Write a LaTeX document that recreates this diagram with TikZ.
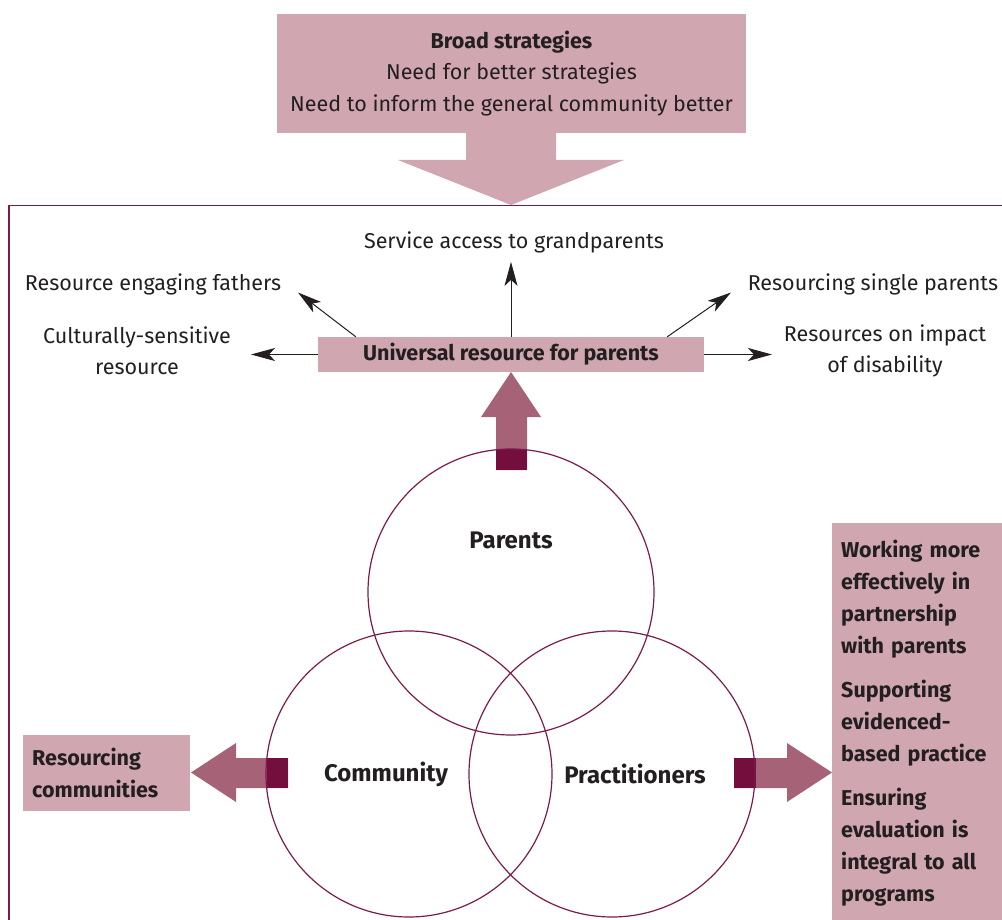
\documentclass[tikz,border=0pt]{standalone}
\usepackage{fontspec}
\setmainfont{Fira Sans}
\usetikzlibrary{arrows.meta,calc}
\definecolor{pinkbg}{HTML}{D0A6B1}
\definecolor{mauve}{HTML}{A66276}
\definecolor{maroon}{HTML}{730E3D}
\definecolor{framec}{HTML}{7B1B4B}
\definecolor{txt}{HTML}{231F20}
\begin{document}
\begin{tikzpicture}[x=1pt,y=-1pt,
  base/.style={font=\fontsize{21.5}{31}\selectfont, text=txt},
  lbl/.style={base, inner sep=0pt, align=center},
  boldlbl/.style={base, inner sep=0pt, font=\fontsize{24}{31}\selectfont\bfseries},
  pinkbox/.style={base, fill=pinkbg, inner sep=0pt},
  thinarr/.style={draw=txt, line width=1pt, -{Stealth[length=24pt,width=13pt,inset=6pt]}},
  ring/.style={circle, draw=framec, line width=1.2pt, minimum size=286pt, inner sep=0pt}]
\useasboundingbox (0,0) rectangle (1002,920);

% top box and down arrow
\node[pinkbox, minimum width=469pt, minimum height=119pt, align=center, font=\fontsize{21.5}{31.5}\selectfont] (broad) at (511.5,73.5)
  {\textbf{Broad strategies}\\Need for better strategies\\Need to inform the general community better};
\fill[pinkbg] (466,131) -- (556,131) -- (556,160) -- (624,160) -- (511,205) -- (398,160) -- (466,160) -- cycle;

% frame
\draw[framec, line width=1.4pt] (9,922) -- (9,205.5) -- (1004,205.5);

% universal resource
\node[pinkbox, minimum width=386pt, minimum height=35pt, font=\fontsize{21.5}{31}\selectfont\bfseries] (uni) at (511,354.5) {Universal resource for parents};

% outer labels
\node[lbl] (grand) at (514,242) {Service access to grandparents};
\node[lbl] (fathers) at (153,284) {Resource engaging fathers};
\node[lbl] (single) at (873,284) {Resourcing single parents};
\node[lbl] (cultural) at (137,351) {Culturally-sensitive\\resource};
\node[lbl] (disab) at (885,351) {Resources on impact\\of disability};

\coordinate (ftip) at (298,292.5);
\coordinate (stip) at (731,292.5);
\coordinate (ctip) at (251,353);
\coordinate (dtip) at (772,353);

\draw[thinarr, shorten >=9pt] (uni.north) -- (uni.north |- grand.south);
\draw[thinarr] ($(uni.north west)+(38,0)$) -- (ftip);
\draw[thinarr] ($(uni.north east)+(-37,0)$) -- (stip);
\draw[thinarr] (uni.west) -- (uni.west -| ctip);
\draw[thinarr] (uni.east) -- (uni.east -| dtip);

% block arrows
\fill[mauve] (496,470) -- (496,417) -- (481,417) -- (511,372) -- (541,417) -- (527,417) -- (527,470) -- cycle;
\fill[maroon] (496,449) rectangle (527,470);
\fill[mauve] (288,758) -- (236,758) -- (236,743) -- (191,772.5) -- (236,802) -- (236,788) -- (288,788) -- cycle;
\fill[maroon] (266.5,758) rectangle (288,788);
\fill[mauve] (734,758) -- (787,758) -- (787,743) -- (832,772.5) -- (787,802) -- (787,788) -- (734,788) -- cycle;
\fill[maroon] (734,758) rectangle (755.5,788);

% circles
\node[ring] (cpar) at (511,592) {};
\node[ring] (ccom) at (409,774) {};
\node[ring] (cpra) at (612,774) {};
\node[boldlbl] (lpar) at (511,540) {Parents};
\node[boldlbl] (lcom) at (386,774) {Community};
\node[boldlbl] (lpra) at (635,774) {Practitioners};

% left box
\node[pinkbox, anchor=north west, minimum height=76pt, text width=149pt, inner xsep=9pt, inner ysep=0pt, align=left, font=\fontsize{21.5}{32}\selectfont\bfseries] (rescomm) at (23,735)
  {Resourcing\\communities};

% right box
\fill[pinkbg] (832,523) rectangle (1004,922);
\node[base, anchor=north west, inner sep=0pt, text width=162pt, align=left, font=\fontsize{21.5}{32}\selectfont\bfseries] (practbox) at (841,539.5)
  {Working more\\effectively in\\partnership\\with parents\\[12pt]Supporting\\evidenced-\\based practice\\[12pt]Ensuring\\evaluation is\\integral to all\\programs};
\end{tikzpicture}
\end{document}
